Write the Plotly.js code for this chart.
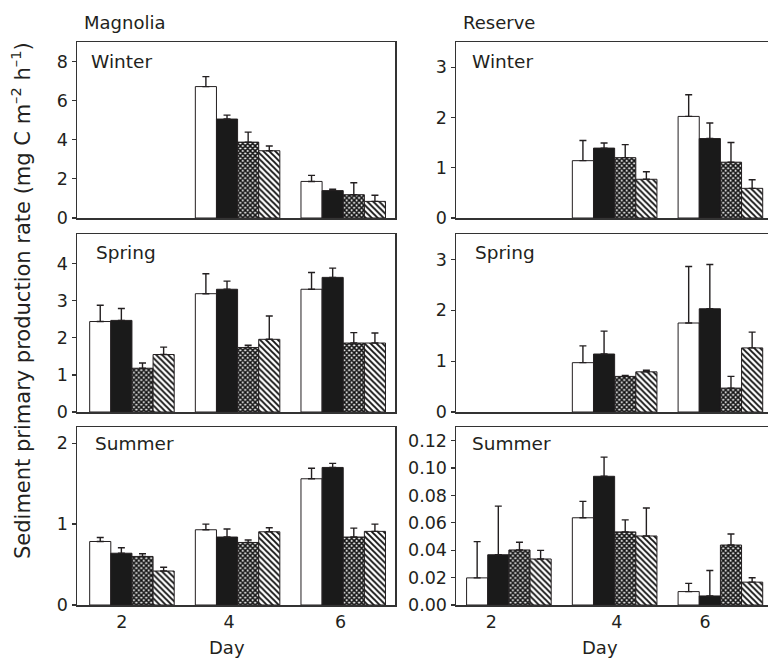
<!DOCTYPE html>
<html>
<head>
<meta charset="utf-8">
<script src="https://cdn.plot.ly/plotly-3.0.1.min.js"></script>
<style>html,body{margin:0;padding:0;background:#fff;}#chart{width:768px;height:658px;}</style>
</head>
<body>
<div id="chart"></div>
<script>
// ---------- DATA ----------
const days = [2, 4, 6];
const tickLabels = ['2', '4', '6'];
const sites = ['Magnolia', 'Reserve'];
const seasons = ['Winter', 'Spring', 'Summer'];
const treatments = ['Open', 'Filled', 'Cross-hatched', 'Hatched'];

// rows = treatments (open, filled, cross-hatched, hatched); columns = days 2, 4, 6
const magnoliaWinter    = [[null, 6.72, 1.87], [null, 5.06, 1.40], [null, 3.88, 1.19], [null, 3.44, 0.85]];
const magnoliaWinterErr = [[null, 0.51, 0.31], [null, 0.20, 0.07], [null, 0.51, 0.61], [null, 0.24, 0.31]];
const magnoliaSpring    = [[2.44, 3.19, 3.31], [2.47, 3.31, 3.63], [1.18, 1.74, 1.86], [1.55, 1.96, 1.86]];
const magnoliaSpringErr = [[0.44, 0.54, 0.45], [0.32, 0.22, 0.25], [0.14, 0.06, 0.28], [0.20, 0.63, 0.27]];
const magnoliaSummer    = [[0.785, 0.93, 1.56], [0.64, 0.84, 1.70], [0.60, 0.773, 0.84], [0.42, 0.905, 0.91]];
const magnoliaSummerErr = [[0.05, 0.07, 0.13], [0.067, 0.10, 0.05], [0.033, 0.03, 0.11], [0.047, 0.05, 0.09]];
const reserveWinter     = [[null, 1.14, 2.02], [null, 1.39, 1.58], [null, 1.20, 1.11], [null, 0.77, 0.59]];
const reserveWinterErr  = [[null, 0.40, 0.43], [null, 0.10, 0.31], [null, 0.26, 0.39], [null, 0.15, 0.17]];
const reserveSpring     = [[null, 0.97, 1.75], [null, 1.14, 2.03], [null, 0.70, 0.47], [null, 0.79, 1.26]];
const reserveSpringErr  = [[null, 0.33, 1.11], [null, 0.45, 0.87], [null, 0.02, 0.23], [null, 0.03, 0.31]];
const reserveSummer     = [[0.0198, 0.0637, 0.0098], [0.0367, 0.094, 0.0066], [0.0402, 0.0534, 0.0438], [0.0336, 0.0504, 0.0167]];
const reserveSummerErr  = [[0.0265, 0.012, 0.006], [0.0355, 0.014, 0.0186], [0.0056, 0.0088, 0.0081], [0.0063, 0.0204, 0.0032]];

// ---------- STYLE / LAYOUT ----------
const W = 768, H = 658;
const INK = '#231f20';
const FONT = 'DejaVu Sans, Liberation Sans, Arial, sans-serif';
const px = v => v / W;
const py = v => 1 - v / H;

const panels = [
  {row: 0, col: 0, vals: magnoliaWinter, errs: magnoliaWinterErr, top: 9,    dtick: 2},
  {row: 0, col: 1, vals: reserveWinter,  errs: reserveWinterErr,  top: 3.5,  dtick: 1},
  {row: 1, col: 0, vals: magnoliaSpring, errs: magnoliaSpringErr, top: 4.8,  dtick: 1},
  {row: 1, col: 1, vals: reserveSpring,  errs: reserveSpringErr,  top: 3.5,  dtick: 1},
  {row: 2, col: 0, vals: magnoliaSummer, errs: magnoliaSummerErr, top: 2.2,  dtick: 1},
  {row: 2, col: 1, vals: reserveSummer,  errs: reserveSummerErr,  top: 0.13, dtick: 0.02, fmt: '.2f'}
];

const colX = [{d: [px(77), px(395)], r: [0.96, 6.98], tv: [1.81, 3.84, 5.95]},
              {d: [px(456), 1],      r: [1.0, 6.9],   tv: [1.67, 4.04, 5.71]}];
const rowY = [[py(218), py(42)], [py(412), py(234)], [py(605), py(427)]];

const markerStyles = [
  {color: '#ffffff', line: {color: INK, width: 1}},
  {color: '#1a1a1a', line: {color: INK, width: 1}},
  {color: '#ffffff', line: {color: INK, width: 1},
   pattern: {shape: 'x', size: 3.5, solidity: 0.72, fgcolor: '#111', bgcolor: '#ffffff', fillmode: 'replace'}},
  {color: '#ffffff', line: {color: INK, width: 1},
   pattern: {shape: '\\', size: 4.2, solidity: 0.45, fgcolor: '#111', bgcolor: '#ffffff', fillmode: 'replace'}}
];

const traces = [];
const layout = {
  width: W, height: H,
  margin: {l: 0, r: 0, t: 0, b: 0},
  paper_bgcolor: '#fff', plot_bgcolor: '#fff',
  showlegend: false,
  barmode: 'group', bargap: 0.2, bargroupgap: 0,
  font: {family: FONT, color: INK, size: 17.5},
  annotations: []
};

panels.forEach((p, i) => {
  const n = i + 1;
  const xa = n === 1 ? 'x' : 'x' + n;
  const ya = n === 1 ? 'y' : 'y' + n;
  p.vals.forEach((vals, t) => {
    traces.push({
      type: 'bar', x: days, y: vals, name: treatments[t],
      xaxis: xa, yaxis: ya,
      marker: markerStyles[t],
      error_y: {type: 'data', symmetric: false, array: p.errs[t],
                arrayminus: p.errs[t].map(() => 0),
                color: INK, thickness: 1.4, width: 3.5},
      hoverinfo: 'x+y'
    });
  });
  const cx = colX[p.col];
  layout['xaxis' + (n === 1 ? '' : n)] = {
    domain: cx.d, range: cx.r, anchor: ya,
    showline: true, mirror: true, linecolor: '#333', linewidth: 1.5,
    showgrid: false, zeroline: false, ticks: '',
    showticklabels: p.row === 2,
    tickmode: 'array', tickvals: cx.tv, ticktext: tickLabels,
    tickfont: {family: FONT, size: 17.5, color: INK},
    automargin: false, fixedrange: true
  };
  layout['yaxis' + (n === 1 ? '' : n)] = {
    domain: rowY[p.row], range: [0, p.top], anchor: xa,
    showline: true, mirror: p.col === 0, linecolor: '#333', linewidth: 1.5,
    showgrid: false, zeroline: false,
    ticks: 'outside', ticklen: 4, tickwidth: 1.2, tickcolor: '#333',
    dtick: p.dtick, tick0: 0, tickformat: p.fmt || '',
    tickfont: {family: FONT, size: 17.5, color: INK},
    automargin: false, fixedrange: true
  };
  const lx = p.col === 0 ? [89, 94, 93][p.row] : [470, 473, 470][p.row];
  const ly = [61, 252, 443][p.row];
  layout.annotations.push({
    text: seasons[p.row], xref: 'paper', yref: 'paper',
    x: px(lx), y: py(ly), xanchor: 'left', yanchor: 'middle',
    showarrow: false, font: {family: FONT, size: 18.5, color: INK}
  });
});

layout.annotations.push({text: sites[0], xref: 'paper', yref: 'paper', x: px(82), y: py(22),
  xanchor: 'left', yanchor: 'middle', showarrow: false, font: {family: FONT, size: 18, color: INK}});
layout.annotations.push({text: sites[1], xref: 'paper', yref: 'paper', x: px(461), y: py(22),
  xanchor: 'left', yanchor: 'middle', showarrow: false, font: {family: FONT, size: 18, color: INK}});
layout.annotations.push({text: 'Day', xref: 'paper', yref: 'paper', x: px(227), y: py(647),
  xanchor: 'center', yanchor: 'middle', showarrow: false, font: {family: FONT, size: 18, color: INK}});
layout.annotations.push({text: 'Day', xref: 'paper', yref: 'paper', x: px(600), y: py(647),
  xanchor: 'center', yanchor: 'middle', showarrow: false, font: {family: FONT, size: 18, color: INK}});
layout.annotations.push({
  text: 'Sediment primary production rate (mg C m<sup>–2</sup> h<sup>–1</sup>)',
  xref: 'paper', yref: 'paper', x: px(21), y: py(301),
  xanchor: 'center', yanchor: 'middle', textangle: -90, showarrow: false,
  font: {family: FONT, size: 21, color: INK}
});

Plotly.newPlot('chart', traces, layout, {staticPlot: true, displayModeBar: false});
</script>
</body>
</html>
